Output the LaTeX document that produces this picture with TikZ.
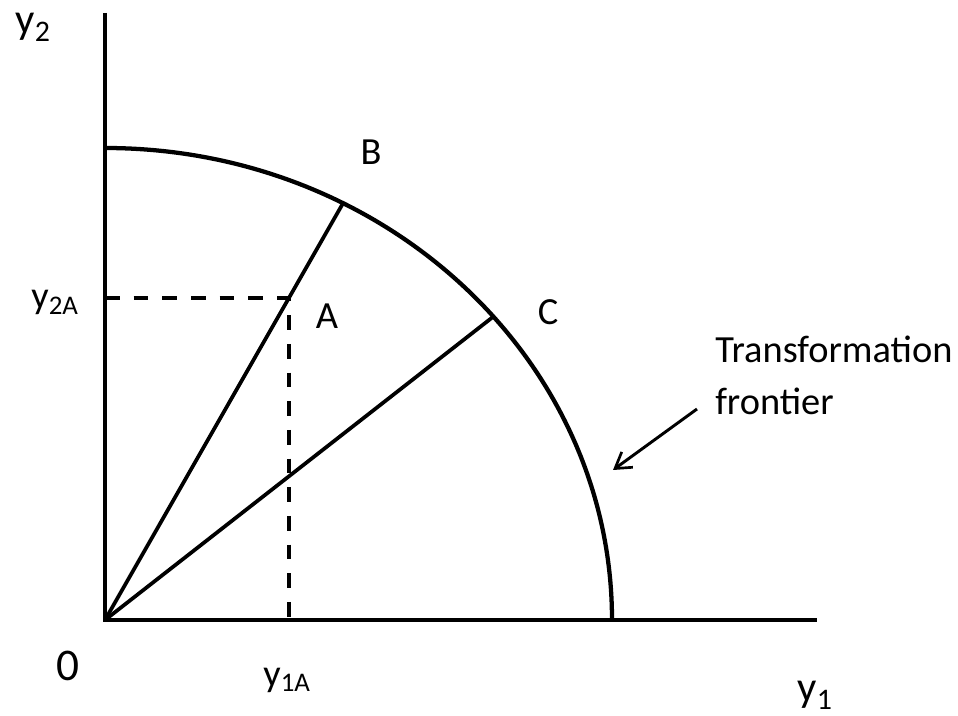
\documentclass[tikz,border=0pt]{standalone}
\usepackage{fontspec}
\setmainfont{Carlito}
\usetikzlibrary{arrows.meta,calc}
\newcommand{\lbsize}{\fontsize{28.8}{39}\selectfont}
\newcommand{\axsize}{\fontsize{32}{38}\selectfont}

\begin{document}
\begin{tikzpicture}[x=0.75pt,y=0.75pt,>={Straight Barb[length=4mm,width=5mm,line width=2pt]}]
\useasboundingbox (-105,-95) rectangle (853,620);
\coordinate (O) at (0,0);
\coordinate (B) at (62:507 and 472);
\coordinate (C) at (40:507 and 472);
\coordinate (A) at ($(O)!0.772!(B)$);
\coordinate (tip) at (508,150);
\coordinate (tail) at (592,211);
\draw[line width=3.5pt] (0,607)--(O)--(712,0);
\draw[line width=3.2pt] (0,472) arc (90:0:507 and 472);
\draw[line width=2.8pt,dash pattern=on 11pt off 10.5pt] (A -| O)--(A)--(A |- O);
\draw[line width=2.8pt] (O)--(B);
\draw[line width=2.8pt] (O)--(C);
\draw[->,line width=2.2pt] (tail)--(tip);
\node[font=\axsize] (y2) at (-72,593) {y\textsubscript{2}};
\node[font=\axsize] (y1) at (710,-75) {y\textsubscript{1}};
\node[font=\fontsize{34}{40}\selectfont] (orig) at (-37,-46) {0};
\node[font=\lbsize] (y2A) at (-50,318) {y\textsubscript{2A}};
\node[font=\lbsize] (y1A) at (182,-60) {y\textsubscript{1A}};
\node[font=\lbsize] (labB) at (266,468) {B};
\node[font=\lbsize] (labA) at (222,304) {A};
\node[font=\lbsize] (labC) at (443,308) {C};
\node[font=\lbsize,anchor=west,align=left,inner sep=0pt] (tf) at (610,245) {Transformation\\frontier};
\end{tikzpicture}
\end{document}
